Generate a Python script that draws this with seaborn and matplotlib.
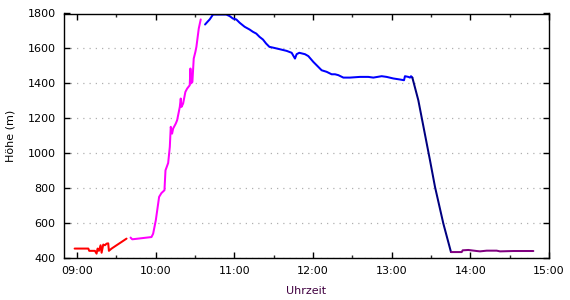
import numpy as np
import pandas as pd
import matplotlib
matplotlib.use("Agg")
import matplotlib.pyplot as plt
from matplotlib.ticker import FuncFormatter, MultipleLocator
import seaborn as sns

# --- data (time in decimal hours, altitude in m) ---
red_t = [8.970, 9.144, 9.156, 9.228, 9.249, 9.262, 9.279, 9.300, 9.313, 9.334,
         9.355, 9.376, 9.397, 9.406, 9.440, 9.503, 9.567, 9.630]
red_v = [454, 454, 441, 441, 425, 454, 441, 473, 430, 477,
         473, 482, 484, 441, 454, 473, 492, 511]

mag_t = [9.681, 9.702, 9.947, 9.968, 10.002, 10.044, 10.074, 10.112, 10.125, 10.159,
         10.180, 10.192, 10.209, 10.222, 10.256, 10.273, 10.307, 10.319, 10.328, 10.349,
         10.378, 10.400, 10.433, 10.442, 10.450, 10.467, 10.484, 10.505, 10.518, 10.548,
         10.573]
mag_v = [517, 507, 520, 539, 616, 750, 772, 788, 902, 944,
         1036, 1151, 1112, 1141, 1170, 1189, 1265, 1313, 1265, 1284,
         1351, 1370, 1389, 1485, 1400, 1408, 1542, 1580, 1609, 1714,
         1766]

blue_t = [10.628, 10.666, 10.687, 10.729, 10.814, 10.898, 10.941, 10.983, 11.025, 11.068,
          11.131, 11.195, 11.237, 11.279, 11.321, 11.364, 11.404, 11.446, 11.488, 11.573,
          11.665, 11.729, 11.758, 11.771, 11.792, 11.826, 11.898, 11.941, 12.004, 12.068,
          12.110, 12.174, 12.237, 12.280, 12.322, 12.386, 12.470, 12.597, 12.703, 12.767,
          12.873, 12.936, 13.021, 13.106, 13.157, 13.169, 13.212, 13.233, 13.246, 13.263]
blue_v = [1737, 1756, 1766, 1794, 1794, 1794, 1785, 1771, 1766, 1747,
          1724, 1708, 1695, 1685, 1666, 1651, 1628, 1609, 1605, 1596,
          1586, 1575, 1552, 1542, 1567, 1575, 1567, 1556, 1523, 1494,
          1475, 1466, 1452, 1452, 1447, 1433, 1433, 1437, 1437, 1433,
          1441, 1437, 1428, 1422, 1418, 1441, 1437, 1433, 1441, 1433]

navy_t = [13.263, 13.339, 13.487, 13.551, 13.657, 13.754]
navy_v = [1433, 1303, 960, 807, 597, 434]

purp_t = [13.754, 13.890, 13.903, 13.975, 14.081, 14.123, 14.208, 14.335, 14.377, 14.547, 14.801]
purp_v = [434, 434, 444, 446, 440, 438, 442, 442, 438, 440, 440]

segments = [
    ("red", red_t, red_v, "#ff0000"),
    ("magenta", mag_t, mag_v, "#ff00ff"),
    ("blue", blue_t, blue_v, "#0000ff"),
    ("navy", navy_t, navy_v, "#000080"),
    ("purple", purp_t, purp_v, "#800080"),
]

x_ticks = [9, 10, 11, 12, 13, 14, 15]
y_ticks = [400, 600, 800, 1000, 1200, 1400, 1600, 1800]

sns.set_theme(style="white")
plt.rcParams["font.family"] = ["DejaVu Sans"]

fig = plt.figure(figsize=(5.7, 3.0), dpi=100)
ax = fig.add_axes([64 / 570, 1 - 258 / 300, (549 - 64) / 570, (258 - 13.5) / 300])

for name, t, v, col in segments:
    df = pd.DataFrame({"t": t, "v": v})
    sns.lineplot(data=df, x="t", y="v", color=col, linewidth=1.45, sort=False,
                 estimator=None, ax=ax, legend=False)

ax.set_xlim(8.835, 15)
ax.set_ylim(400, 1800)
ax.set_xticks(x_ticks)
ax.set_yticks(y_ticks)
ax.xaxis.set_minor_locator(MultipleLocator(0.5))
ax.xaxis.set_major_formatter(FuncFormatter(lambda x, p: f"{int(x):02d}:{int(round((x % 1) * 60)):02d}"))

for s in ax.spines.values():
    s.set_visible(True)
    s.set_color("black")
    s.set_linewidth(1.0)

ax.tick_params(axis="both", which="major", direction="in", length=4, width=1,
               top=True, right=True, bottom=True, left=True, labelsize=8,
               colors="black", pad=6)
ax.tick_params(axis="x", which="minor", direction="in", length=2, width=1,
               top=True, bottom=True)
ax.grid(axis="y", linestyle=(0, (1, 4)), color="#b0b0b0", linewidth=0.9)
ax.grid(axis="x", visible=False)

ax.set_xlabel("Uhrzeit", fontsize=8, color="#400040", labelpad=7)
ax.set_ylabel("Höhe (m)", fontsize=8, color="black", labelpad=9)

fig.savefig("out.png", dpi=100, facecolor="white")
